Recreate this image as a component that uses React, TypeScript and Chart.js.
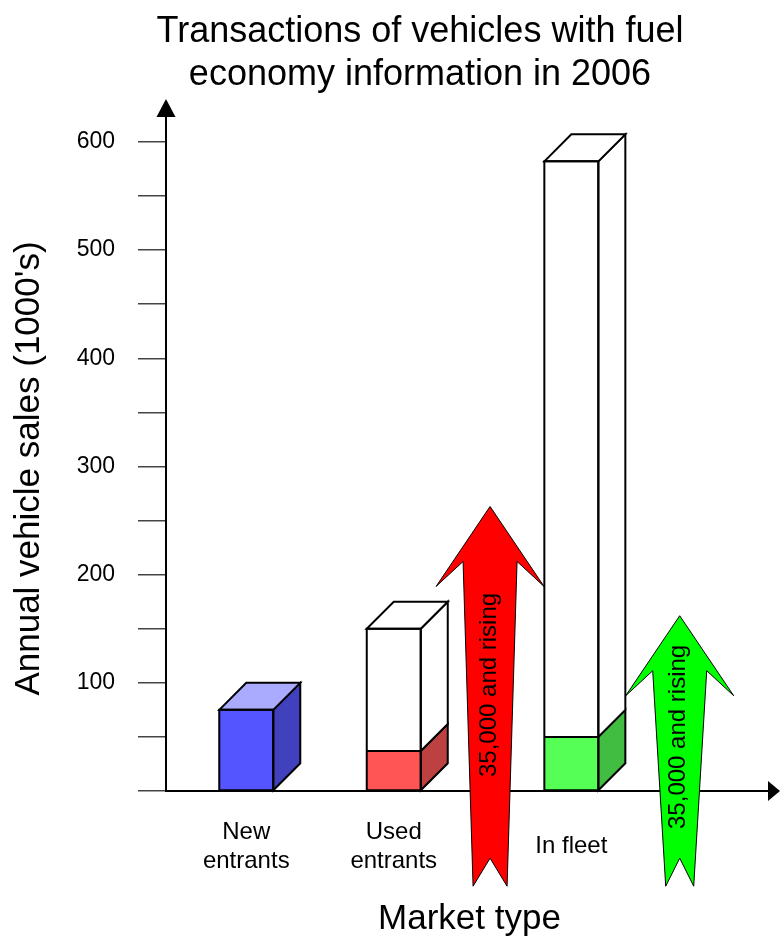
import React, { useEffect, useRef } from 'react';
import { Chart, registerables } from 'chart.js';

Chart.register(...registerables);

// ---------- data ----------
const categories: string[][] = [['New', 'entrants'], ['Used', 'entrants'], ['In fleet']];
const totalSales = [75, 150, 582];
const fuelEconomySales = [75, 37, 50];
const categorySlots = [4.0, 11.35, 20.2];
const yTickValues = [0, 50, 100, 150, 200, 250, 300, 350, 400, 450, 500, 550, 600];
const yTickLabels = ['', '', '100', '', '200', '', '300', '', '400', '', '500', '', '600'];
const arrowTexts = ['35,000 and rising', '35,000 and rising'];
const arrowSlots = [16.15, 25.6];
const arrowTipValues = [263, 162];
const arrowTailValues = [-88, -88];
const arrowTextValues = [98, 50];
const titleLines = ['Transactions of vehicles with fuel', 'economy information in 2006'];
const yTitle = "Annual vehicle sales (1000's)";
const xTitle = 'Market type';

// ---------- styles ----------
const FONT = '"Liberation Sans", Arial, Helvetica, sans-serif';
const frontColors = ['#5555FF', '#FF5555', '#55FF55'];
const sideColors = ['#4141BE', '#BE4141', '#41BE41'];
const topColors = ['#AAAAFF', '#FFAAAA', '#AAFFAA'];
const arrowColors = ['#FF0000', '#00FF00'];
const arrowTailHalf = [17, 14];
const DX = 27;
const DY = -27;

type Pt = [number, number];

function poly(ctx: CanvasRenderingContext2D, pts: Pt[], fill: string | null, lw = 2) {
  ctx.beginPath();
  ctx.moveTo(pts[0][0], pts[0][1]);
  for (let k = 1; k < pts.length; k++) ctx.lineTo(pts[k][0], pts[k][1]);
  ctx.closePath();
  if (fill) {
    ctx.fillStyle = fill;
    ctx.fill();
  }
  ctx.lineWidth = lw;
  ctx.strokeStyle = '#000';
  ctx.stroke();
}

const decorPlugin = {
  id: 'decor',
  afterDatasetsDraw(chart: any) {
    const ctx: CanvasRenderingContext2D = chart.ctx;
    const xs = chart.scales.x;
    const ys = chart.scales.y;
    const area = chart.chartArea;
    ctx.save();
    ctx.lineJoin = 'miter';

    // 3D boxes
    const meta = chart.getDatasetMeta(0);
    categories.forEach((_, i) => {
      const el = meta.data[i];
      const { x, y, base, width } = el.getProps(['x', 'y', 'base', 'width'], true);
      const L = x - width / 2;
      const R = x + width / 2;
      const yPart = y;
      const y0 = base;
      const yTop = ys.getPixelForValue(totalSales[i]);
      const full = fuelEconomySales[i] >= totalSales[i];
      poly(ctx, [[R, yPart], [R + DX, yPart + DY], [R + DX, y0 + DY], [R, y0]], sideColors[i]);
      if (!full) {
        poly(ctx, [[R, yTop], [R + DX, yTop + DY], [R + DX, yPart + DY], [R, yPart]], '#FFFFFF');
      }
      poly(ctx, [[L, yTop], [L + DX, yTop + DY], [R + DX, yTop + DY], [R, yTop]], full ? topColors[i] : '#FFFFFF');
      poly(ctx, [[L, yTop], [R, yTop], [R, y0], [L, y0]], null);
      if (!full) {
        ctx.beginPath();
        ctx.moveTo(L, yPart);
        ctx.lineTo(R, yPart);
        ctx.stroke();
      }
    });

    // block arrows
    arrowSlots.forEach((s, i) => {
      const cx = xs.getPixelForValue(s);
      const tip = ys.getPixelForValue(arrowTipValues[i]);
      const tail = ys.getPixelForValue(arrowTailValues[i]);
      const th = arrowTailHalf[i];
      const pts: Pt[] = [
        [cx, tip],
        [cx + 54, tip + 80],
        [cx + 27, tip + 55],
        [cx + th, tail],
        [cx, tail - 28],
        [cx - th, tail],
        [cx - 27, tip + 55],
        [cx - 54, tip + 80],
      ];
      poly(ctx, pts, arrowColors[i], 1);
      ctx.save();
      ctx.translate(cx - 1, ys.getPixelForValue(arrowTextValues[i]));
      ctx.rotate(-Math.PI / 2);
      ctx.fillStyle = '#000';
      ctx.font = `24px ${FONT}`;
      ctx.textAlign = 'center';
      ctx.textBaseline = 'middle';
      ctx.fillText(arrowTexts[i], 0, 0);
      ctx.restore();
    });

    // axis arrowheads
    ctx.fillStyle = '#000';
    ctx.beginPath();
    ctx.moveTo(area.left, area.top - 18);
    ctx.lineTo(area.left + 9.5, area.top);
    ctx.lineTo(area.left - 9.5, area.top);
    ctx.closePath();
    ctx.fill();
    ctx.beginPath();
    ctx.moveTo(area.right + 12, area.bottom);
    ctx.lineTo(area.right, area.bottom - 10);
    ctx.lineTo(area.right, area.bottom + 10);
    ctx.closePath();
    ctx.fill();

    // category labels
    ctx.fillStyle = '#000';
    ctx.font = `24px ${FONT}`;
    ctx.textAlign = 'center';
    ctx.textBaseline = 'alphabetic';
    categories.forEach((lines, i) => {
      const cx = xs.getPixelForValue(categorySlots[i]);
      const first = area.bottom + 62 - (lines.length - 1) * 14.5;
      lines.forEach((ln, k) => ctx.fillText(ln, cx, first + k * 29));
    });

    // titles
    ctx.font = `36px ${FONT}`;
    titleLines.forEach((ln, k) => ctx.fillText(ln, 420, 42 + k * 43));
    ctx.font = `35px ${FONT}`;
    ctx.fillText(xTitle, 469.5, 929);
    ctx.save();
    ctx.translate(39, 468.5);
    ctx.rotate(-Math.PI / 2);
    ctx.fillText(yTitle, 0, 0);
    ctx.restore();

    ctx.restore();
  },
};

export default function App() {
  const ref = useRef<HTMLCanvasElement>(null);
  useEffect(() => {
    if (!ref.current) return;
    const coloredData = categories.map((_, i) => ({ x: categorySlots[i], y: [0, fuelEconomySales[i]] }));
    const remainderData = categories
      .map((_, i) => ({ x: categorySlots[i], y: [fuelEconomySales[i], totalSales[i]] }))
      .filter((_, i) => fuelEconomySales[i] < totalSales[i]);
    const chart = new Chart(ref.current, {
      type: 'bar',
      data: {
        datasets: [
          {
            label: 'With fuel economy information',
            data: coloredData as any,
            backgroundColor: frontColors,
            borderWidth: 0,
            barThickness: 54,
            grouped: false,
          } as any,
          {
            label: 'Total',
            data: remainderData as any,
            backgroundColor: '#FFFFFF',
            borderWidth: 0,
            barThickness: 54,
            grouped: false,
          } as any,
        ],
      },
      options: {
        responsive: false,
        animation: false,
        layout: { padding: { top: 117, right: 12, left: 0, bottom: 0 } },
        plugins: { legend: { display: false }, tooltip: { enabled: false }, title: { display: false } },
        scales: {
          x: {
            type: 'linear',
            offset: false,
            min: 0,
            max: 30,
            ticks: { display: false },
            grid: { display: false, drawTicks: false, offset: false },
            border: { display: true, color: '#000', width: 2 },
            afterFit: (s: any) => {
              s.height = 147;
            },
          },
          y: {
            type: 'linear',
            min: 0,
            max: 623,
            afterBuildTicks: (s: any) => {
              s.ticks = yTickValues.map((v) => ({ value: v }));
            },
            ticks: {
              autoSkip: false,
              callback: (_v: any, idx: number) => yTickLabels[idx],
              font: { family: FONT, size: 23 },
              color: '#000',
              padding: 23,
            },
            grid: { display: true, drawOnChartArea: false, drawTicks: true, tickLength: 28, color: '#444', lineWidth: 1.5 },
            border: { display: true, color: '#000', width: 2 },
            afterFit: (s: any) => {
              s.width = 166;
            },
          },
        },
      } as any,
      plugins: [decorPlugin],
    });
    return () => chart.destroy();
  }, []);
  return (
    <div style={{ position: 'absolute', left: 0, top: 0, width: 780, height: 938, background: '#fff' }}>
      <canvas ref={ref} width={780} height={938} style={{ display: 'block', width: 780, height: 938 }} />
    </div>
  );
}
